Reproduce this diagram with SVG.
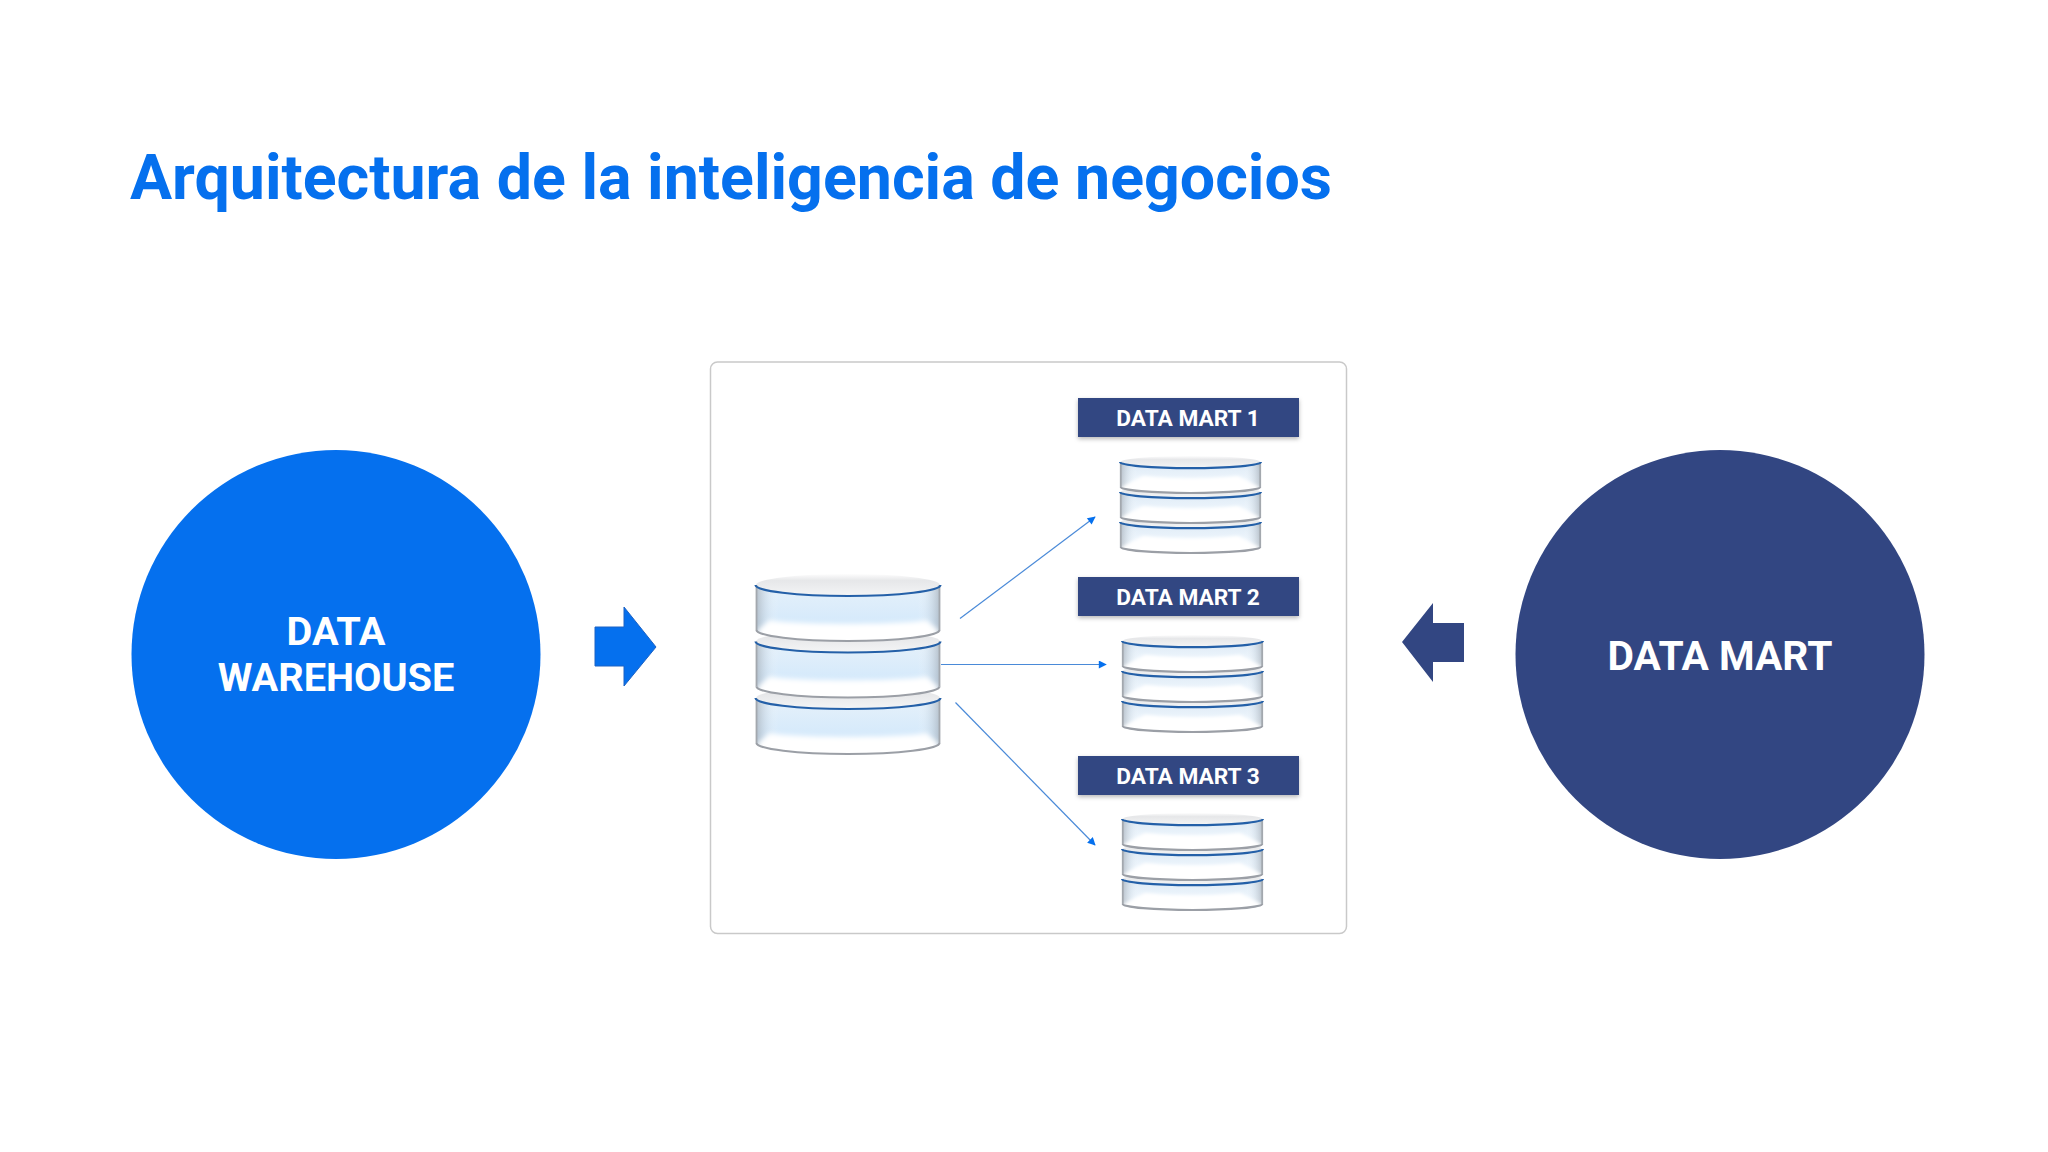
<svg xmlns="http://www.w3.org/2000/svg" width="2048" height="1152" viewBox="0 0 2048 1152">
<style>
text{font-family:Roboto,"Liberation Sans",sans-serif;font-weight:700}
.lbl{fill:#fff;text-anchor:middle}
.big{font-size:39.700px}
.bar{fill:#324682;filter:url(#sh)}
.barT{font-size:22.700px}
.conn{stroke:#4a8ad8;stroke-width:1.2;fill:none;marker-end:url(#ah)}
.rim{fill:none;stroke:#2460a8;stroke-width:2.2;vector-effect:non-scaling-stroke}
.bot{fill:none;stroke:#9b9fa6;stroke-width:2.2;vector-effect:non-scaling-stroke}
.side{fill:none;stroke:#a3a8ae;stroke-width:1.800;vector-effect:non-scaling-stroke}
</style>
<defs>
<filter id="sh" x="-5%" y="-20%" width="110%" height="150%"><feDropShadow dx="0" dy="2" stdDeviation="2" flood-color="#000" flood-opacity=".28"/></filter>
<filter id="soft" x="-5%" y="-30%" width="110%" height="160%"><feGaussianBlur stdDeviation="2.500"/></filter>
<marker id="ah" viewBox="0 0 10 10" refX="9" refY="5" markerWidth="9" markerHeight="8" markerUnits="userSpaceOnUse" orient="auto"><path d="M0 0L10 5L0 10Z" fill="#0570ee"/></marker>
<linearGradient id="topG" x1="0" y1="0" x2="0" y2="1"><stop offset="0" stop-color="#fdfdfd"/><stop offset=".3" stop-color="#e6e7e9"/><stop offset="1" stop-color="#f4f5f6"/></linearGradient>
<linearGradient id="bodyL" x1="0" y1="0" x2="0" y2="1"><stop offset="0" stop-color="#e6f1fa"/><stop offset=".7" stop-color="#d4e9fb"/><stop offset="1" stop-color="#e4f1fc"/></linearGradient>
<linearGradient id="bodyS" x1="0" y1="0" x2="0" y2="1"><stop offset="0" stop-color="#dde9f4"/><stop offset=".6" stop-color="#eef6fd"/><stop offset="1" stop-color="#fbfdff"/></linearGradient>
<linearGradient id="edge" x1="0" y1="0" x2="1" y2="0"><stop offset="0" stop-color="#9aa3ad" stop-opacity=".6"/><stop offset=".06" stop-color="#c6d2dd" stop-opacity=".3"/><stop offset=".12" stop-color="#fff" stop-opacity="0"/><stop offset=".88" stop-color="#fff" stop-opacity="0"/><stop offset=".94" stop-color="#c6d2dd" stop-opacity=".3"/><stop offset="1" stop-color="#9aa3ad" stop-opacity=".6"/></linearGradient>
<clipPath id="bodyClip"><path d="M1 11V56A91.500 11 0 0 0 184 56V11Z"/></clipPath>
<g id="diskL">
<path d="M1 11V56A91.500 11 0 0 0 184 56V11Z" fill="url(#bodyL)"/>
<path d="M1 11V56A91.500 11 0 0 0 184 56V11Z" fill="url(#edge)"/>
<g clip-path="url(#bodyClip)"><path d="M3 56L14 46C40 51 145 51 171 46L182 56V72H3Z" fill="#fff" filter="url(#soft)"/></g>
<ellipse cx="92.500" cy="11" rx="92" ry="11" fill="url(#topG)"/>
<path class="side" d="M1 11V56M184 11V56"/>
<path class="rim" d="M0 11A92.500 11 0 0 0 185 11"/>
<path class="bot" d="M1 56A91.500 11 0 0 0 184 56"/>
</g>
<g id="diskS">
<path d="M1 11V56A91.500 11 0 0 0 184 56V11Z" fill="url(#bodyS)"/>
<path d="M1 11V56A91.500 11 0 0 0 184 56V11Z" fill="url(#edge)"/>
<g clip-path="url(#bodyClip)"><path d="M3 56L30 36C60 42 125 42 155 36L182 56V72H3Z" fill="#fff" filter="url(#soft)"/></g>
<ellipse cx="92.500" cy="11" rx="92" ry="11" fill="url(#topG)"/>
<path class="side" d="M1 11V56M184 11V56"/>
<path class="rim" d="M0 11A92.500 11 0 0 0 185 11"/>
<path class="bot" d="M1 56A91.500 11 0 0 0 184 56"/>
</g>
</defs>
<rect width="2048" height="1152" fill="#fff"/>
<text id="title" x="130" y="199" font-size="62.700" fill="#0570ee">Arquitectura de la inteligencia de negocios</text>
<g id="data-warehouse"><circle cx="336" cy="654.500" r="204.500" fill="#0570ee"/><text class="lbl big" x="336" y="645">DATA</text><text class="lbl big" x="336" y="691">WAREHOUSE</text></g>
<g id="data-mart"><circle cx="1720" cy="654.500" r="204.500" fill="#324682"/><text class="lbl big" x="1720" y="670" style="font-size:40.700px">DATA MART</text></g>
<g id="arrow-right"><path d="M595 627H624V607L656 647L624 686V666H595Z" fill="#0570ee" stroke="#1c62c4" stroke-width="1"/></g>
<g id="arrow-left"><path d="M1464 623H1433V603L1402 642L1433 682V662H1464Z" fill="#324682"/></g>
<g id="panel"><rect x="710.500" y="362" width="636" height="571.500" rx="7" fill="#fff" stroke="#c9c9c9" stroke-width="1.500"/></g>
<g id="warehouse-db">
<use href="#diskL" transform="translate(755.500 687)"/>
<use href="#diskL" transform="translate(755.500 630.500)"/>
<use href="#diskL" transform="translate(755.500 574)"/>
</g>
<g id="mart1"><rect class="bar" x="1078" y="398" width="221" height="39"/><text class="lbl barT" x="1188" y="426">DATA MART 1</text>
<use href="#diskS" transform="translate(1120 516) scale(.762 .552)"/><use href="#diskS" transform="translate(1120 486) scale(.762 .552)"/><use href="#diskS" transform="translate(1120 456) scale(.762 .552)"/></g>
<g id="mart2"><rect class="bar" x="1078" y="577" width="221" height="39"/><text class="lbl barT" x="1188" y="605">DATA MART 2</text>
<use href="#diskS" transform="translate(1122 695) scale(.762 .552)"/><use href="#diskS" transform="translate(1122 665) scale(.762 .552)"/><use href="#diskS" transform="translate(1122 635) scale(.762 .552)"/></g>
<g id="mart3"><rect class="bar" x="1078" y="756" width="221" height="39"/><text class="lbl barT" x="1188" y="784">DATA MART 3</text>
<use href="#diskS" transform="translate(1122 873) scale(.762 .552)"/><use href="#diskS" transform="translate(1122 843) scale(.762 .552)"/><use href="#diskS" transform="translate(1122 813) scale(.762 .552)"/></g>
<g id="connectors">
<path class="conn" d="M960 618.500L1095 517"/>
<path class="conn" d="M941 664.500H1106"/>
<path class="conn" d="M955.500 702.500L1095 845"/>
</g>
</svg>
